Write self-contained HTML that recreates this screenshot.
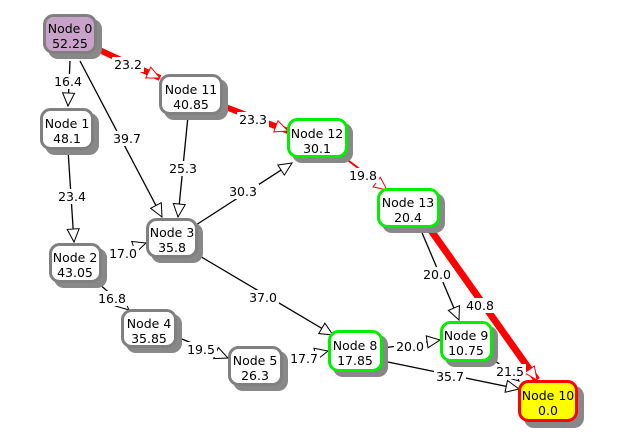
<!DOCTYPE html>
<html><head><meta charset="utf-8"><style>
html,body{margin:0;padding:0;background:#fff;}
svg{display:block;}
text{font-family:"DejaVu Sans","Liberation Sans",sans-serif;font-size:12.5px;fill:#000;}
.lbl{text-anchor:middle;}
.nt{text-anchor:middle;}
.bg rect{fill:#fff;}
</style></head><body>
<svg width="622" height="434" viewBox="0 0 622 434" xmlns="http://www.w3.org/2000/svg">
<defs>
<marker id="ab" markerUnits="userSpaceOnUse" markerWidth="16" markerHeight="16" refX="14" refY="7" orient="auto" viewBox="0 0 16 14"><path d="M1,1 L14,7 L1,13 z" fill="#fff" stroke="#000" stroke-width="1"/></marker>
<marker id="ar" markerUnits="userSpaceOnUse" markerWidth="16" markerHeight="16" refX="14" refY="7" orient="auto" viewBox="0 0 16 14"><path d="M1,1 L14,7 L1,13 z" fill="#fff" stroke="#f00" stroke-width="1"/></marker>
</defs>
<g stroke="#000" stroke-width="1.3" fill="none">
<line x1="70" y1="61" x2="68" y2="106" marker-end="url(#ab)"/>
<line x1="80" y1="61" x2="162" y2="217" marker-end="url(#ab)"/>
<line x1="188" y1="116" x2="178" y2="217" marker-end="url(#ab)"/>
<line x1="68" y1="150" x2="74" y2="242" marker-end="url(#ab)"/>
<line x1="196" y1="225" x2="292" y2="163" marker-end="url(#ab)"/>
<line x1="102" y1="258" x2="146" y2="243" marker-end="url(#ab)"/>
<line x1="98" y1="283" x2="129" y2="310" marker-end="url(#ab)"/>
<line x1="177" y1="337" x2="228" y2="358" marker-end="url(#ab)"/>
<line x1="283" y1="362" x2="328" y2="351" marker-end="url(#ab)"/>
<line x1="198" y1="255" x2="333" y2="335" marker-end="url(#ab)"/>
<line x1="383" y1="348" x2="440" y2="340" marker-end="url(#ab)"/>
<line x1="420" y1="228" x2="459" y2="320" marker-end="url(#ab)"/>
<line x1="383" y1="361" x2="519" y2="389" marker-end="url(#ab)"/>
<line x1="492" y1="358" x2="519" y2="381" marker-end="url(#ab)"/>
</g>
<g stroke="#f00" fill="none">
<line x1="95" y1="48" x2="160" y2="78" stroke-width="6" marker-end="url(#ar)"/>
<line x1="223" y1="106" x2="288" y2="131" stroke-width="6" marker-end="url(#ar)"/>
<line x1="345" y1="158" x2="387" y2="190" stroke-width="2" marker-end="url(#ar)"/>
<line x1="425" y1="222" x2="537" y2="380" stroke-width="7" marker-end="url(#ar)"/>
</g>
<g class="bg">
<rect x="52" y="74" width="32" height="15"/>
<rect x="112" y="57" width="32" height="15"/>
<rect x="111" y="131" width="32" height="15"/>
<rect x="167" y="161" width="32" height="15"/>
<rect x="237" y="112" width="32" height="15"/>
<rect x="56" y="189" width="32" height="15"/>
<rect x="227" y="184" width="32" height="15"/>
<rect x="347" y="168" width="32" height="15"/>
<rect x="107" y="246" width="32" height="15"/>
<rect x="96" y="291" width="32" height="15"/>
<rect x="185" y="342" width="32" height="15"/>
<rect x="288" y="351" width="32" height="15"/>
<rect x="247" y="290" width="32" height="15"/>
<rect x="394" y="339" width="32" height="15"/>
<rect x="421" y="267" width="32" height="15"/>
<rect x="464" y="298" width="32" height="15"/>
<rect x="494" y="364" width="32" height="15"/>
<rect x="434" y="369" width="32" height="15"/>
</g>
<g>
<text class="lbl" x="68" y="86">16.4</text>
<text class="lbl" x="128" y="69">23.2</text>
<text class="lbl" x="127" y="143">39.7</text>
<text class="lbl" x="183" y="173">25.3</text>
<text class="lbl" x="253" y="124">23.3</text>
<text class="lbl" x="72" y="201">23.4</text>
<text class="lbl" x="243" y="196">30.3</text>
<text class="lbl" x="363" y="180">19.8</text>
<text class="lbl" x="123" y="258">17.0</text>
<text class="lbl" x="112" y="303">16.8</text>
<text class="lbl" x="201" y="354">19.5</text>
<text class="lbl" x="304" y="363">17.7</text>
<text class="lbl" x="263" y="302">37.0</text>
<text class="lbl" x="410" y="351">20.0</text>
<text class="lbl" x="437" y="279">20.0</text>
<text class="lbl" x="480" y="310">40.8</text>
<text class="lbl" x="510" y="376">21.5</text>
<text class="lbl" x="450" y="381">35.7</text>
</g>
<g>
<g fill="#888">
<rect x="48" y="19" width="54" height="40" rx="10"/>
<rect x="45" y="113" width="54" height="42" rx="10"/>
<rect x="164" y="79" width="64" height="41" rx="10"/>
<rect x="292" y="123" width="61" height="40" rx="10"/>
<rect x="382" y="193" width="63" height="40" rx="10"/>
<rect x="54" y="248" width="53" height="40" rx="10"/>
<rect x="151" y="223" width="52" height="40" rx="10"/>
<rect x="126" y="314" width="56" height="39" rx="10"/>
<rect x="233" y="351" width="55" height="40" rx="10"/>
<rect x="333" y="335" width="55" height="42" rx="10"/>
<rect x="445" y="326" width="53" height="41" rx="10"/>
<rect x="524" y="386" width="60" height="42" rx="10"/>
</g>
<rect x="44.5" y="15.5" width="51" height="37" rx="9" fill="#c8a2c8" stroke="#808080" stroke-width="3"/>
<rect x="41.5" y="109.5" width="51" height="39" rx="9" fill="#fff" stroke="#808080" stroke-width="3"/>
<rect x="160.5" y="75.5" width="61" height="38" rx="9" fill="#fff" stroke="#808080" stroke-width="3"/>
<rect x="288.5" y="119.5" width="58" height="37" rx="9" fill="#fff" stroke="#00ee00" stroke-width="3"/>
<rect x="378.5" y="189.5" width="60" height="37" rx="9" fill="#fff" stroke="#00ee00" stroke-width="3"/>
<rect x="50.5" y="244.5" width="50" height="37" rx="9" fill="#fff" stroke="#808080" stroke-width="3"/>
<rect x="147.5" y="219.5" width="49" height="37" rx="9" fill="#fff" stroke="#808080" stroke-width="3"/>
<rect x="122.5" y="310.5" width="53" height="36" rx="9" fill="#fff" stroke="#808080" stroke-width="3"/>
<rect x="229.5" y="347.5" width="52" height="37" rx="9" fill="#fff" stroke="#808080" stroke-width="3"/>
<rect x="329.5" y="331.5" width="52" height="39" rx="9" fill="#fff" stroke="#00ee00" stroke-width="3"/>
<rect x="441.5" y="322.5" width="50" height="38" rx="9" fill="#fff" stroke="#00ee00" stroke-width="3"/>
<rect x="519.5" y="381.5" width="57" height="39" rx="9" fill="#ffff00" stroke="#f00" stroke-width="3"/>
</g>
<g>
<text class="nt" x="70" y="33">Node 0</text><text class="nt" x="70" y="48">52.25</text>
<text class="nt" x="67" y="128">Node 1</text><text class="nt" x="67" y="143">48.1</text>
<text class="nt" x="191" y="94">Node 11</text><text class="nt" x="191" y="109">40.85</text>
<text class="nt" x="317" y="138">Node 12</text><text class="nt" x="317" y="153">30.1</text>
<text class="nt" x="408" y="207">Node 13</text><text class="nt" x="408" y="222">20.4</text>
<text class="nt" x="75" y="262">Node 2</text><text class="nt" x="75" y="277">43.05</text>
<text class="nt" x="172" y="237">Node 3</text><text class="nt" x="172" y="252">35.8</text>
<text class="nt" x="149" y="328">Node 4</text><text class="nt" x="149" y="343">35.85</text>
<text class="nt" x="255" y="365">Node 5</text><text class="nt" x="255" y="380">26.3</text>
<text class="nt" x="355" y="350">Node 8</text><text class="nt" x="355" y="365">17.85</text>
<text class="nt" x="466" y="340">Node 9</text><text class="nt" x="466" y="355">10.75</text>
<text class="nt" x="548" y="400">Node 10</text><text class="nt" x="548" y="415">0.0</text>
</g>
</svg>
</body></html>
